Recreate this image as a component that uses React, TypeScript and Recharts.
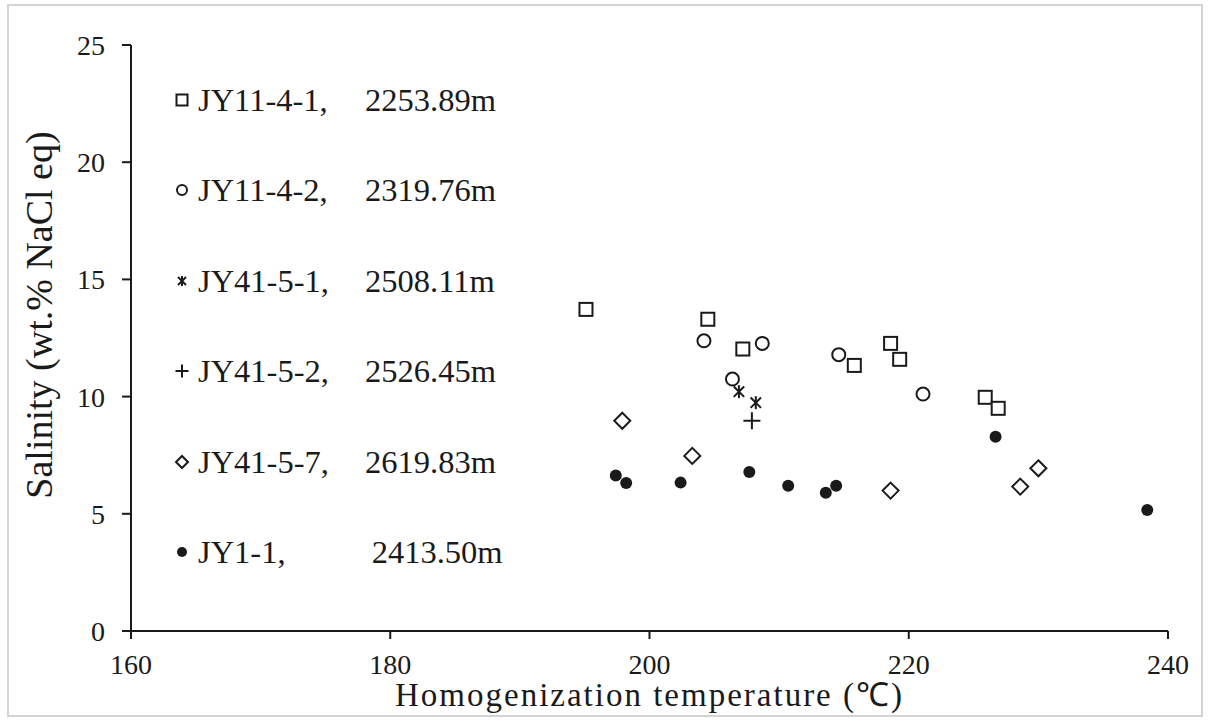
import React from 'react';
import { ScatterChart, Scatter, XAxis, YAxis, Legend, Label } from 'recharts';

const xTicks = [160, 180, 200, 220, 240];
const yTicks = [0, 5, 10, 15, 20, 25];

const jy11_4_1 = [
  { x: 195.1, y: 13.72 }, { x: 204.5, y: 13.3 }, { x: 207.2, y: 12.03 }, { x: 218.6, y: 12.27 },
  { x: 219.3, y: 11.59 }, { x: 215.8, y: 11.33 }, { x: 225.9, y: 9.97 }, { x: 226.9, y: 9.5 },
];
const jy11_4_2 = [
  { x: 204.2, y: 12.38 }, { x: 208.7, y: 12.27 }, { x: 214.6, y: 11.79 }, { x: 206.4, y: 10.75 },
  { x: 221.1, y: 10.11 },
];
const jy41_5_1 = [{ x: 206.9, y: 10.21 }, { x: 208.2, y: 9.74 }];
const jy41_5_2 = [{ x: 207.9, y: 8.97 }];
const jy41_5_7 = [
  { x: 197.9, y: 8.97 }, { x: 203.3, y: 7.47 }, { x: 218.6, y: 5.99 }, { x: 228.6, y: 6.16 },
  { x: 230.0, y: 6.94 },
];
const jy1_1 = [
  { x: 197.4, y: 6.63 }, { x: 198.2, y: 6.31 }, { x: 202.4, y: 6.33 }, { x: 207.7, y: 6.78 },
  { x: 210.7, y: 6.2 }, { x: 213.6, y: 5.9 }, { x: 214.4, y: 6.2 }, { x: 226.7, y: 8.29 },
  { x: 238.4, y: 5.16 },
];

const legendNames = ['JY11-4-1,', 'JY11-4-2,', 'JY41-5-1,', 'JY41-5-2,', 'JY41-5-7,', 'JY1-1,'];
const legendDepths = ['2253.89m', '2319.76m', '2508.11m', '2526.45m', '2619.83m', '2413.50m'];
const kinds = ['square', 'circle', 'star', 'plus', 'diamond', 'dot'];
const seriesData = [jy11_4_1, jy11_4_2, jy41_5_1, jy41_5_2, jy41_5_7, jy1_1];

const FONT = '"Liberation Serif", "Times New Roman", serif';
const INK = '#1a1a1a';

function marker(kind: string, cx: number, cy: number, s: number) {
  const sw = 2;
  switch (kind) {
    case 'square':
      return <rect x={cx - s / 2} y={cy - s / 2} width={s} height={s} fill="#fff" stroke={INK} strokeWidth={sw} />;
    case 'circle':
      return <circle cx={cx} cy={cy} r={s / 2} fill="#fff" stroke={INK} strokeWidth={sw} />;
    case 'star': {
      const h = s / 2;
      return (
        <g stroke={INK} strokeWidth={sw}>
          <line x1={cx - h * 0.8} y1={cy - h * 0.8} x2={cx + h * 0.8} y2={cy + h * 0.8} />
          <line x1={cx - h * 0.8} y1={cy + h * 0.8} x2={cx + h * 0.8} y2={cy - h * 0.8} />
          <line x1={cx} y1={cy - h} x2={cx} y2={cy + h} />
        </g>
      );
    }
    case 'plus': {
      const h = s / 2;
      return (
        <g stroke={INK} strokeWidth={sw}>
          <line x1={cx - h} y1={cy} x2={cx + h} y2={cy} />
          <line x1={cx} y1={cy - h} x2={cx} y2={cy + h} />
        </g>
      );
    }
    case 'diamond': {
      const h = s / 2;
      return (
        <polygon
          points={`${cx},${cy - h} ${cx + h},${cy} ${cx},${cy + h} ${cx - h},${cy}`}
          fill="#fff"
          stroke={INK}
          strokeWidth={sw}
        />
      );
    }
    default:
      return <circle cx={cx} cy={cy} r={s / 2} fill={INK} stroke="none" />;
  }
}

const plotSizes: Record<string, number> = { square: 13, circle: 13, star: 13, plus: 17, diamond: 16, dot: 12 };
const legendSizes: Record<string, number> = { square: 11, circle: 10, star: 10, plus: 13, diamond: 12, dot: 10 };

const makeShape = (kind: string) => (props: any) => {
  const { cx, cy } = props;
  if (cx == null || cy == null) return <g />;
  return marker(kind, cx, cy, plotSizes[kind]);
};

const LEG_LEFT = 160;
const LEG_TOP = 60;

const renderLegend = () => (
  <div style={{ position: 'relative', width: 420, height: 540, fontFamily: FONT, fontSize: 32.5, color: INK }}>
    {legendNames.map((name, i) => {
      const cy = 100 + 90.4 * i - LEG_TOP;
      return (
        <div key={name} style={{ position: 'absolute', left: 0, top: cy - 20, height: 40, width: 420 }}>
          <svg width={24} height={24} style={{ position: 'absolute', left: 181.7 - LEG_LEFT - 12, top: 8 }}>
            {marker(kinds[i], 12, 12, legendSizes[kinds[i]])}
          </svg>
          <span style={{ position: 'absolute', left: 198 - LEG_LEFT, top: 0, lineHeight: '40px', whiteSpace: 'nowrap' }}>
            {name}
          </span>
          <span
            style={{
              position: 'absolute',
              left: (i === 5 ? 371.7 : 365) - LEG_LEFT,
              top: 0,
              lineHeight: '40px',
              whiteSpace: 'nowrap',
            }}
          >
            {legendDepths[i]}
          </span>
        </div>
      );
    })}
  </div>
);

const tickStyle = { fill: INK, fontSize: 28, fontFamily: FONT };

export default function App() {
  return (
    <div style={{ position: 'absolute', left: 0, top: 0, width: 1211, height: 724, background: '#fff' }}>
      <div
        style={{
          position: 'absolute',
          left: 7,
          top: 4,
          width: 1196,
          height: 713,
          border: '2px solid #d4d4d4',
          boxSizing: 'border-box',
        }}
      />
      <ScatterChart width={1211} height={724} margin={{ top: 45, right: 43, left: 71, bottom: 33 }}>
        <XAxis
          type="number"
          dataKey="x"
          domain={[160, 240]}
          ticks={xTicks}
          interval={0}
          allowDataOverflow
          stroke={INK}
          strokeWidth={2}
          tickSize={8}
          tickMargin={15}
          tick={tickStyle}
          height={60}
        >
          <Label
            content={(p: any) => {
              const vb = p.viewBox || {};
              return (
                <text
                  x={vb.x + vb.width / 2}
                  y={706}
                  textAnchor="middle"
                  fill={INK}
                  fontSize={33}
                  letterSpacing={2}
                  fontFamily={FONT}
                >
                  Homogenization temperature (℃)
                </text>
              );
            }}
          />
        </XAxis>
        <YAxis
          type="number"
          dataKey="y"
          domain={[0, 25]}
          ticks={yTicks}
          interval={0}
          allowDataOverflow
          stroke={INK}
          strokeWidth={2}
          tickSize={9}
          tickMargin={17}
          tick={tickStyle}
          width={60}
        >
          <Label
            content={() => {
              const x = 52;
              const y = 315;
              return (
                <text
                  x={x}
                  y={y}
                  transform={`rotate(-90, ${x}, ${y})`}
                  textAnchor="middle"
                  fill={INK}
                  fontSize={38}
                  fontFamily={FONT}
                >
                  Salinity (wt.% NaCl eq)
                </text>
              );
            }}
          />
        </YAxis>
        <Legend
          layout="vertical"
          align="center"
          verticalAlign="middle"
          content={renderLegend}
          wrapperStyle={{ position: 'absolute', left: LEG_LEFT, top: LEG_TOP, width: 420, height: 540 }}
        />
        {seriesData.map((d, i) => (
          <Scatter
            key={legendNames[i]}
            name={legendNames[i]}
            data={d}
            isAnimationActive={false}
            shape={makeShape(kinds[i])}
          />
        ))}
      </ScatterChart>
    </div>
  );
}
